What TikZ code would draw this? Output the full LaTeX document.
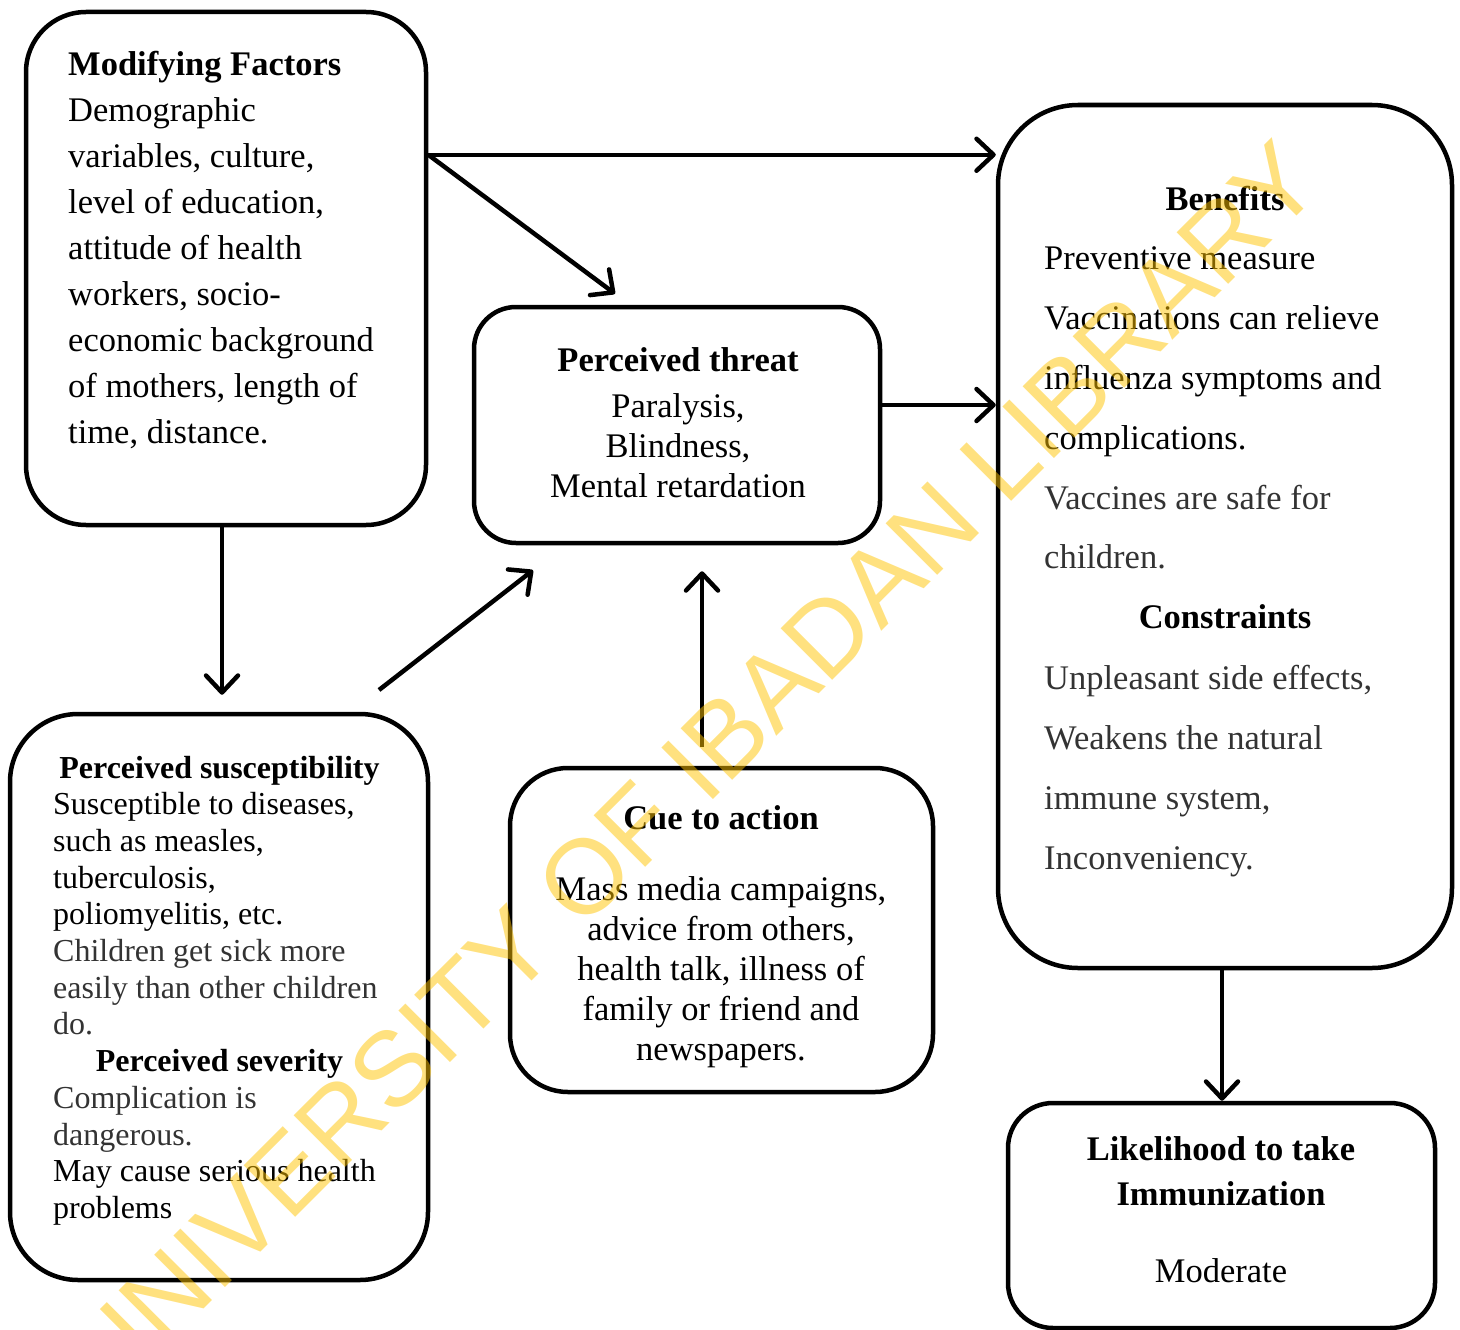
\documentclass[tikz,border=0pt]{standalone}
\usepackage{fontspec}
\setmainfont{Liberation Serif}
\newfontfamily\wmfont{Liberation Sans}
\usetikzlibrary{arrows.meta,calc}
\definecolor{txtgray}{gray}{0.2}
\definecolor{wmyellow}{RGB}{255,195,0}
\begin{document}
\begin{tikzpicture}[x=1pt,y=-1pt,
  rbox/.style={draw=black, line width=4.5pt, rounded corners=#1, inner sep=0pt, shape=rectangle},
  arr/.style={line width=4.5pt, -{Straight Barb[length=17pt,width=32pt,line cap=round,line join=round]}},
  tl/.style={anchor=base west, inner sep=0pt, font=\fontsize{34.5}{40}\selectfont},
  tc/.style={anchor=base, inner sep=0pt, font=\fontsize{34.5}{40}\selectfont},
  sl/.style={anchor=base west, inner sep=0pt, font=\fontsize{32}{37}\selectfont},
  sc/.style={anchor=base, inner sep=0pt, font=\fontsize{32}{37}\selectfont\bfseries}]
\useasboundingbox (0,0) rectangle (1460,1330);

% boxes
\node[rbox=60pt, minimum width=400pt, minimum height=513pt] (mf) at (226,268.5) {};
\node[rbox=42pt, minimum width=406pt, minimum height=236pt] (pt) at (677,425) {};
\node[rbox=80pt, minimum width=454pt, minimum height=863pt] (bf) at (1225,536.5) {};
\node[rbox=68pt, minimum width=418pt, minimum height=566pt] (ps) at (219,997) {};
\node[rbox=58pt, minimum width=423pt, minimum height=324pt] (ca) at (721.5,930) {};
\node[rbox=45pt, minimum width=427pt, minimum height=225pt] (lk) at (1221.5,1215.5) {};

% Modifying factors
\node[tl, font=\fontsize{34.5}{40}\selectfont\bfseries] (mf0) at (68,76) {Modifying Factors};
\foreach \t [count=\i from 1] in {Demographic, {variables, culture,}, {level of education,},
  attitude of health, {workers, socio-}, economic background, {of mothers, length of},
  {time, distance.}}
  \node[tl] (mf\i) at (68,{76+45.9*\i}) {\t};

% Perceived threat
\node[tc, font=\fontsize{34.5}{40}\selectfont\bfseries] (pt0) at (678,371.5) {Perceived threat};
\node[tc] (pt1) at (678,417.5) {Paralysis,};
\node[tc] (pt2) at (678,457.5) {Blindness,};
\node[tc] (pt3) at (678,497.5) {Mental retardation};

% Perceived susceptibility / severity
\node[sc] (ps0) at (219.5,778) {Perceived susceptibility};
\foreach \t [count=\i from 1] in {{Susceptible to diseases,}, {such as measles,}, {tuberculosis,},
  {poliomyelitis, etc.}, {\color{txtgray}Children get sick more},
  {\color{txtgray}easily than other children}, {\color{txtgray}do.}}
  \node[sl] (ps\i) at (53,{778+36.7*\i}) {\t};
\node[sc] (ps8) at (219.5,{778+36.7*8}) {Perceived severity};
\foreach \t [count=\i from 9] in {{\color{txtgray}Complication is}, {\color{txtgray}dangerous.},
  {May cause serious health}, {problems}}
  \node[sl] (ps\i) at (53,{778+36.7*\i}) {\t};

% Cue to action
\node[tc, font=\fontsize{34.5}{40}\selectfont\bfseries] (ca0) at (721,829) {Cue to action};
\foreach \t [count=\i from 1] in {{Mass media campaigns,}, {advice from others,},
  {health talk, illness of}, {family or friend and}, {newspapers.}}
  \node[tc] (ca\i) at (721,{861+39.8*\i}) {\t};

% Benefits / Constraints
\node[tc, font=\fontsize{34.5}{40}\selectfont\bfseries] (bf0) at (1225,210) {Benefits};
\foreach \t [count=\i from 1] in {Preventive measure, Vaccinations can relieve,
  influenza symptoms and, complications., {\color{txtgray}Vaccines are safe for},
  {\color{txtgray}children.}}
  \node[tl] (bf\i) at (1044,{210+59.8*\i}) {\t};
\node[tc, font=\fontsize{34.5}{40}\selectfont\bfseries] (bf7) at (1225,628) {Constraints};
\foreach \t [count=\i from 8] in {{\color{txtgray}Unpleasant side effects,},
  {\color{txtgray}Weakens the natural}, {\color{txtgray}immune system,},
  {\color{txtgray}Inconveniency.}}
  \node[tl] (bf\i) at (1044,{689+60*(\i-8)}) {\t};

% Likelihood
\node[tc, font=\fontsize{34.5}{40}\selectfont\bfseries] (lk0) at (1221,1160) {Likelihood to take};
\node[tc, font=\fontsize{34.5}{40}\selectfont\bfseries] (lk1) at (1221,1205) {Immunization};
\node[tc] (lk2) at (1221,1282) {Moderate};

% connectors
\coordinate (mfo) at ([yshift=-145pt]mf.north east);
\draw[arr] (mfo) -- (mfo -| bf.west);
\draw[arr] (mfo) -- ([shift={(-62pt,11pt)}]pt.north);
\draw[arr] ([yshift=20pt]pt.east) -- ([yshift=20pt]pt.east -| bf.west);
\draw[arr, shorten >=17pt] ([xshift=-4pt]mf.south) -- ([xshift=-4pt]mf.south |- ps.north);
\coordinate (psa) at (379,690);
\draw[arr] (psa) -- ([shift={(-144pt,-25pt)}]pt.south);
\draw[arr] ([shift={(-19.5pt,19pt)}]ca.north) -- ([shift={(-19.5pt,-26pt)}]ca.north |- pt.south);
\draw[arr] ([xshift=-3pt]bf.south) -- ([xshift=-3pt]bf.south |- lk.north);

% watermark
\node[rotate=45, anchor=base, inner sep=0pt, text=wmyellow, opacity=0.5,
  font=\wmfont\fontsize{106}{106}\selectfont] (wm) at (718,795) {UNIVERSITY OF IBADAN LIBRARY};
\end{tikzpicture}
\end{document}
